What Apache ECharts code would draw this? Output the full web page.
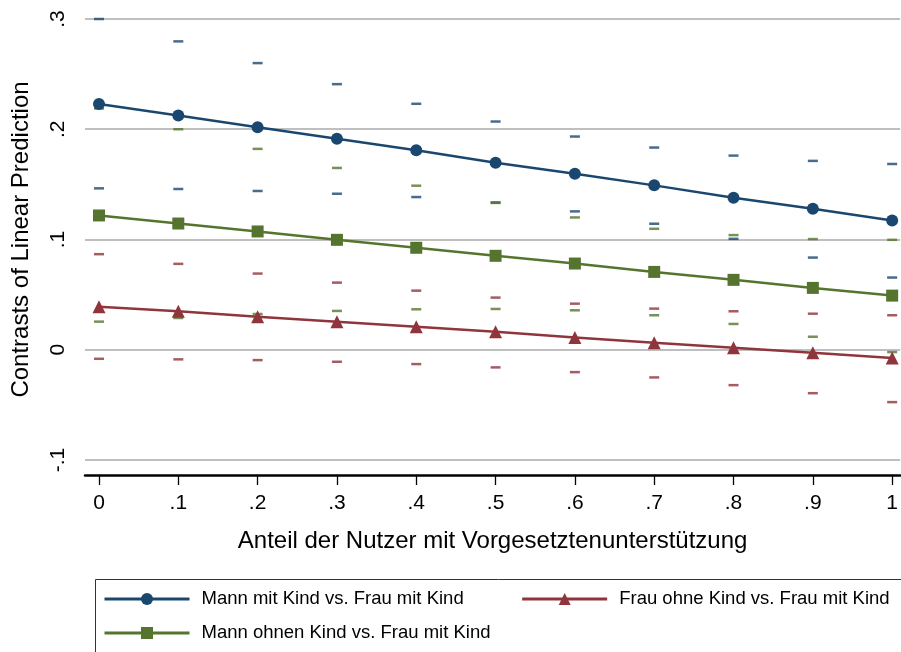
<!DOCTYPE html>
<html>
<head>
<meta charset="utf-8">
<script src="https://cdn.jsdelivr.net/npm/echarts@6/dist/echarts.min.js"></script>
<style>
html,body{margin:0;padding:0;background:#fff;}
#chart{width:901px;height:652px;}
</style>
</head>
<body>
<div id="chart"></div>
<script>
// ---- data ----
const xValues = [0, 0.1, 0.2, 0.3, 0.4, 0.5, 0.6, 0.7, 0.8, 0.9, 1];
const xTickValues = [0, 0.1, 0.2, 0.3, 0.4, 0.5, 0.6, 0.7, 0.8, 0.9, 1];
const xTickLabels = ['0', '.1', '.2', '.3', '.4', '.5', '.6', '.7', '.8', '.9', '1'];
const yTickLabels = {'-0.1': '-.1', '0': '0', '0.1': '.1', '0.2': '.2', '0.3': '.3'};

const seriesNames = [
  'Mann mit Kind vs. Frau mit Kind',
  'Frau ohne Kind vs. Frau mit Kind',
  'Mann ohnen Kind vs. Frau mit Kind'
];

// Mann mit Kind vs. Frau mit Kind
const mmkEst = [0.223, 0.2125, 0.2018, 0.1913, 0.1809, 0.1697, 0.1597, 0.1491, 0.1379, 0.1279, 0.1173];
const mmkHi  = [0.300, 0.2797, 0.260, 0.2409, 0.2231, 0.207, 0.1934, 0.1834, 0.1761, 0.1713, 0.1685];
const mmkLo  = [0.1464, 0.1458, 0.144, 0.1415, 0.1385, 0.1336, 0.1255, 0.1143, 0.1006, 0.0836, 0.0655];

// Frau ohne Kind vs. Frau mit Kind
const fokEst = [0.0391, 0.0349, 0.030, 0.0255, 0.0209, 0.0164, 0.0112, 0.0064, 0.0018, -0.0027, -0.0075];
const fokHi  = [0.0867, 0.0779, 0.0691, 0.0609, 0.0536, 0.0473, 0.0418, 0.0373, 0.0349, 0.0327, 0.0313];
const fokLo  = [-0.0082, -0.0087, -0.0094, -0.0109, -0.013, -0.016, -0.0203, -0.0251, -0.0321, -0.0394, -0.0475];

// Mann ohnen Kind vs. Frau mit Kind
const mokEst = [0.1218, 0.1145, 0.1073, 0.0997, 0.0925, 0.0852, 0.0782, 0.0706, 0.0634, 0.0561, 0.0491];
const mokHi  = [0.2188, 0.200, 0.1822, 0.1649, 0.1488, 0.1332, 0.120, 0.1097, 0.104, 0.1004, 0.0997];
const mokLo  = [0.0255, 0.0288, 0.0324, 0.0352, 0.0367, 0.037, 0.0358, 0.0313, 0.0234, 0.0118, -0.0021];

// ---- build ----
const BLUE = '#1a476f', RED = '#90353b', GREEN = '#55752f';
const FONT = '"Liberation Sans", Arial, sans-serif';

function pairs(ys) { return xValues.map((x, i) => [x, ys[i]]); }
function caps(name, lo, hi, color) {
  return {
    name: name + ' CI', type: 'scatter', silent: true,
    symbol: 'rect', symbolSize: [10, 2.5],
    itemStyle: {color: color},
    data: pairs(lo).concat(pairs(hi)),
    z: 2
  };
}
function line(name, est, color, symbol, size) {
  return {
    name: name, type: 'line', data: pairs(est),
    symbol: symbol, symbolSize: size, showSymbol: true,
    lineStyle: {color: color, width: 2.5},
    itemStyle: {color: color},
    emphasis: {disabled: true},
    z: 3
  };
}

const legendText = {fontSize: 18.5, color: '#000', fontFamily: FONT, lineHeight: 20, padding: [0, 0, 0, 7]};

const chart = echarts.init(document.getElementById('chart'), null, {renderer: 'canvas'});
chart.setOption({
  animation: false,
  backgroundColor: '#fff',
  textStyle: {fontFamily: FONT},
  grid: {left: 85, right: 0, top: 19, height: 441},
  xAxis: {
    type: 'value', min: -0.01763, max: 1.01008, offset: 15,
    name: 'Anteil der Nutzer mit Vorgesetztenunterstützung',
    nameLocation: 'middle', nameGap: 54,
    nameTextStyle: {fontSize: 24, color: '#000', fontFamily: FONT},
    axisLine: {show: true, onZero: false, lineStyle: {color: '#000', width: 2.5}},
    axisTick: {show: true, length: 10, customValues: xTickValues, lineStyle: {color: '#000', width: 1.3}},
    axisLabel: {
      customValues: xTickValues, margin: 18, fontSize: 21, color: '#000', fontFamily: FONT,
      formatter: v => { const i = xTickValues.findIndex(t => Math.abs(t - v) < 1e-6); return i >= 0 ? xTickLabels[i] : ''; }
    },
    splitLine: {show: false}
  },
  yAxis: {
    type: 'value', min: -0.1, max: 0.3, interval: 0.1,
    name: 'Contrasts of Linear Prediction',
    nameLocation: 'middle', nameGap: 52, nameRotate: 90,
    nameTextStyle: {fontSize: 24, color: '#000', fontFamily: FONT},
    axisLine: {show: false}, axisTick: {show: false},
    axisLabel: {
      rotate: 90, margin: 16, fontSize: 21, color: '#000', fontFamily: FONT,
      formatter: v => yTickLabels[String(Math.round(v * 10) / 10)] || ''
    },
    splitLine: {show: true, lineStyle: {color: '#aaaaaa', width: 1.6}}
  },
  legend: [
    {
      data: [seriesNames[0], seriesNames[1]], orient: 'horizontal',
      left: 103, top: 589, padding: 0, itemGap: 57, itemWidth: 85, itemHeight: 15,
      selectedMode: false, lineStyle: {width: 3},
      textStyle: legendText
    },
    {
      data: [seriesNames[2]], orient: 'horizontal',
      left: 103, top: 623, padding: 0, itemWidth: 85, itemHeight: 15,
      selectedMode: false, lineStyle: {width: 3},
      textStyle: legendText
    }
  ],
  graphic: [{
    type: 'rect', left: 93, top: 577, silent: true, z: -1,
    shape: {width: 806, height: 120},
    style: {fill: 'none', stroke: '#333', lineWidth: 1}
  }],
  series: [
    caps(seriesNames[0], mmkLo, mmkHi, BLUE),
    caps(seriesNames[2], mokLo, mokHi, GREEN),
    caps(seriesNames[1], fokLo, fokHi, RED),
    line(seriesNames[0], mmkEst, BLUE, 'circle', 12),
    line(seriesNames[2], mokEst, GREEN, 'rect', 12),
    line(seriesNames[1], fokEst, RED, 'triangle', 13)
  ]
});
</script>
</body>
</html>
